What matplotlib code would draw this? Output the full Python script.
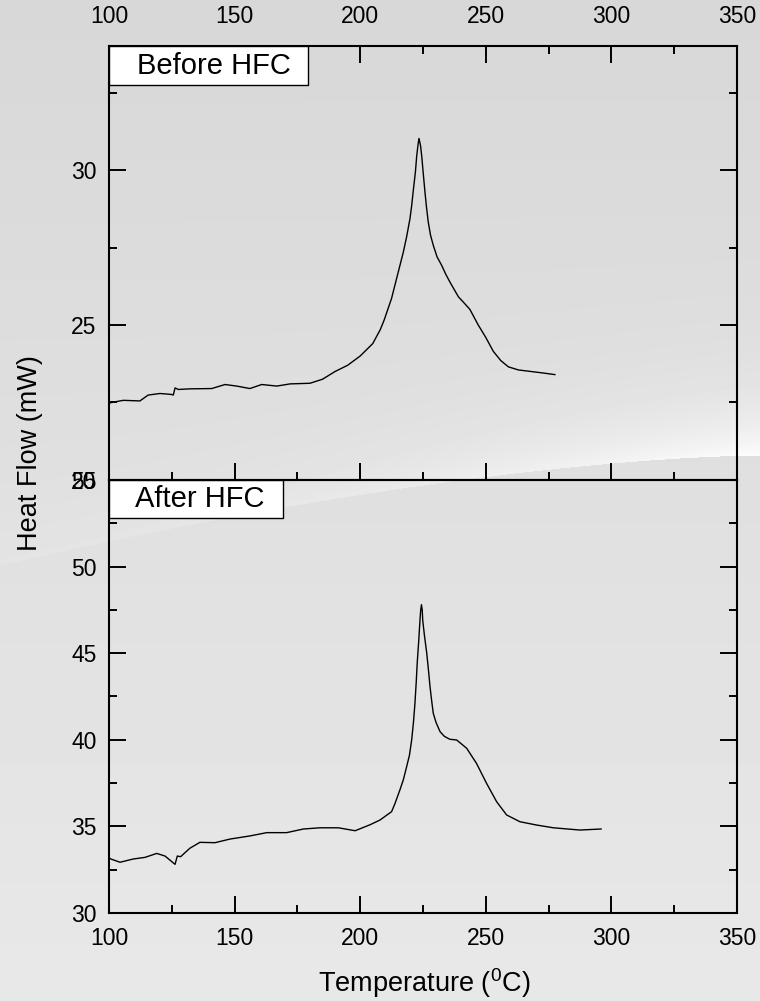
import numpy as np
import matplotlib.pyplot as plt
from matplotlib.patches import Rectangle
from matplotlib.ticker import MultipleLocator

plt.rcParams['font.family'] = ['Liberation Sans', 'DejaVu Sans']
plt.rcParams['mathtext.fontset'] = 'custom'
plt.rcParams['mathtext.rm'] = 'Liberation Sans'

# DSC curve before HFC
t_before = [100.0, 100.4, 105.7, 112.3, 115.6, 120.3, 124.9, 125.6, 126.3, 127.6,
            132.2, 140.9, 146.2, 150.8, 156.1, 160.8, 166.8, 172.1, 180.0, 185.0,
            190.0, 195.0, 200.0, 205.0, 208.0, 209.5, 212.5, 214.5, 217.2, 218.5,
            219.8, 220.5, 221.2, 222.0, 222.5, 223.0, 223.4, 224.0, 224.5, 225.1,
            225.8, 226.4, 227.1, 228.0, 229.1, 230.6, 232.4, 234.0, 235.7, 237.4,
            239.1, 241.5, 243.7, 247.0, 250.0, 253.0, 256.0, 259.0, 263.0, 268.0,
            273.0, 277.5]
hf_before = [22.45, 22.49, 22.57, 22.55, 22.74, 22.79, 22.76, 22.74, 22.97, 22.92,
             22.94, 22.95, 23.08, 23.03, 22.95, 23.08, 23.03, 23.10, 23.12, 23.25,
             23.50, 23.70, 24.00, 24.40, 24.85, 25.15, 25.86, 26.50, 27.36, 27.85,
             28.42, 28.85, 29.38, 29.95, 30.45, 30.80, 31.02, 30.80, 30.45, 29.90,
             29.28, 28.80, 28.32, 27.90, 27.57, 27.20, 26.93, 26.65, 26.39, 26.15,
             25.91, 25.70, 25.50, 25.00, 24.60, 24.15, 23.85, 23.65, 23.55, 23.50,
             23.45, 23.40]

# DSC curve after HFC
t_after = [100.0, 100.7, 104.4, 109.7, 114.3, 119.0, 122.3, 126.3, 127.2, 128.5,
           132.2, 136.2, 142.2, 148.2, 156.1, 162.8, 170.7, 177.4, 184.0, 191.3,
           198.0, 204.0, 207.9, 212.5, 213.8, 215.8, 217.2, 218.5, 219.6, 220.5,
           221.2, 221.8, 222.3, 222.7, 223.3, 223.8, 224.1, 224.4, 224.7, 224.9,
           225.6, 226.5, 227.2, 227.8, 228.5, 229.1, 230.2, 231.8, 233.5, 235.7,
           238.4, 242.4, 246.3, 250.3, 254.3, 258.3, 263.6, 270.2, 276.9, 287.5,
           295.9]
hf_after = [33.20, 33.12, 32.93, 33.12, 33.21, 33.44, 33.29, 32.81, 33.29, 33.25,
            33.74, 34.08, 34.06, 34.27, 34.45, 34.64, 34.64, 34.85, 34.92, 34.92,
            34.75, 35.10, 35.37, 35.85, 36.30, 37.10, 37.70, 38.45, 39.10, 39.99,
            41.00, 42.10, 43.30, 44.42, 45.70, 46.90, 47.50, 47.80, 47.50, 46.90,
            46.00, 45.00, 44.00, 43.07, 42.20, 41.53, 41.00, 40.47, 40.20, 40.03,
            39.99, 39.51, 38.64, 37.49, 36.43, 35.66, 35.27, 35.08, 34.92, 34.79,
            34.85]

x_ticks = [100, 150, 200, 250, 300, 350]
y_ticks_top = [20, 25, 30]
y_ticks_bottom = [30, 35, 40, 45, 50, 55]

fig = plt.figure(figsize=(7.6, 10.01), dpi=100)

# grey slide background with a light swoosh
bg = fig.add_axes([0, 0, 1, 1], zorder=-10)
H, W = 1001, 760
yy, xx = np.mgrid[0:H, 0:W]
base = 0.845 + 0.065 * yy / H
edge = 455 + 110 * (1 - xx / W) ** 1.6
d = edge - yy
glow = np.where(d > 0, np.exp(-d / 45.0), 0) * (0.015 + 0.10 * (xx / W) ** 2)
img = np.clip(base + glow, 0, 1)
bg.imshow(img, cmap='gray', vmin=0, vmax=1, aspect='auto', extent=[0, 1, 0, 1])
bg.axis('off')

ax2 = fig.add_axes([0.1434, 0.0879, 0.8263, 0.4326])
ax1 = fig.add_axes([0.1434, 0.5205, 0.8263, 0.4335])

for ax in (ax1, ax2):
    ax.set_facecolor('none')
    ax.set_xlim(100, 350)
    ax.set_xticks(x_ticks)
    ax.xaxis.set_minor_locator(MultipleLocator(25))
    ax.yaxis.set_minor_locator(MultipleLocator(2.5))
    for s in ax.spines.values():
        s.set_linewidth(1.5)
    ax.tick_params(which='both', direction='in', width=1.4, labelsize=16.5,
                   left=True, right=True)
    ax.tick_params(which='major', length=12)
    ax.tick_params(which='minor', length=6)
    ax.tick_params(axis='y', pad=9)

ax1.plot(t_before, hf_before, color='black', lw=1.0)
ax1.set_ylim(20, 34)
ax1.set_yticks(y_ticks_top)
ax1.tick_params(which='both', top=True, bottom=True, labeltop=True, labelbottom=False)
ax1.tick_params(axis='x', pad=13)

ax2.plot(t_after, hf_after, color='black', lw=1.0)
ax2.set_ylim(30, 55)
ax2.set_yticks(y_ticks_bottom)
ax2.tick_params(which='both', top=False, bottom=True)
ax2.tick_params(axis='x', pad=10)

# labels in white boxes
ax1.add_patch(Rectangle((0, 0.910), 0.317, 0.09, transform=ax1.transAxes,
                        facecolor='white', edgecolor='black', lw=1.0, zorder=5))
ax1.text(0.045, 0.955, 'Before HFC', transform=ax1.transAxes, fontsize=21,
         va='center', ha='left', zorder=6)
ax2.add_patch(Rectangle((0, 0.912), 0.277, 0.088, transform=ax2.transAxes,
                        facecolor='white', edgecolor='black', lw=1.0, zorder=5))
ax2.text(0.041, 0.956, 'After HFC', transform=ax2.transAxes, fontsize=21,
         va='center', ha='left', zorder=6)

fig.text(30 / 760, 1 - 453 / 1001, 'Heat Flow (mW)', rotation=90,
         fontsize=19.5, ha='center', va='center')
fig.text(424 / 760, 1 - 983 / 1001, 'Temperature ($\\mathregular{^0}$C)',
         fontsize=19.5, ha='center', va='center')

fig.savefig('out.png', dpi=100)
